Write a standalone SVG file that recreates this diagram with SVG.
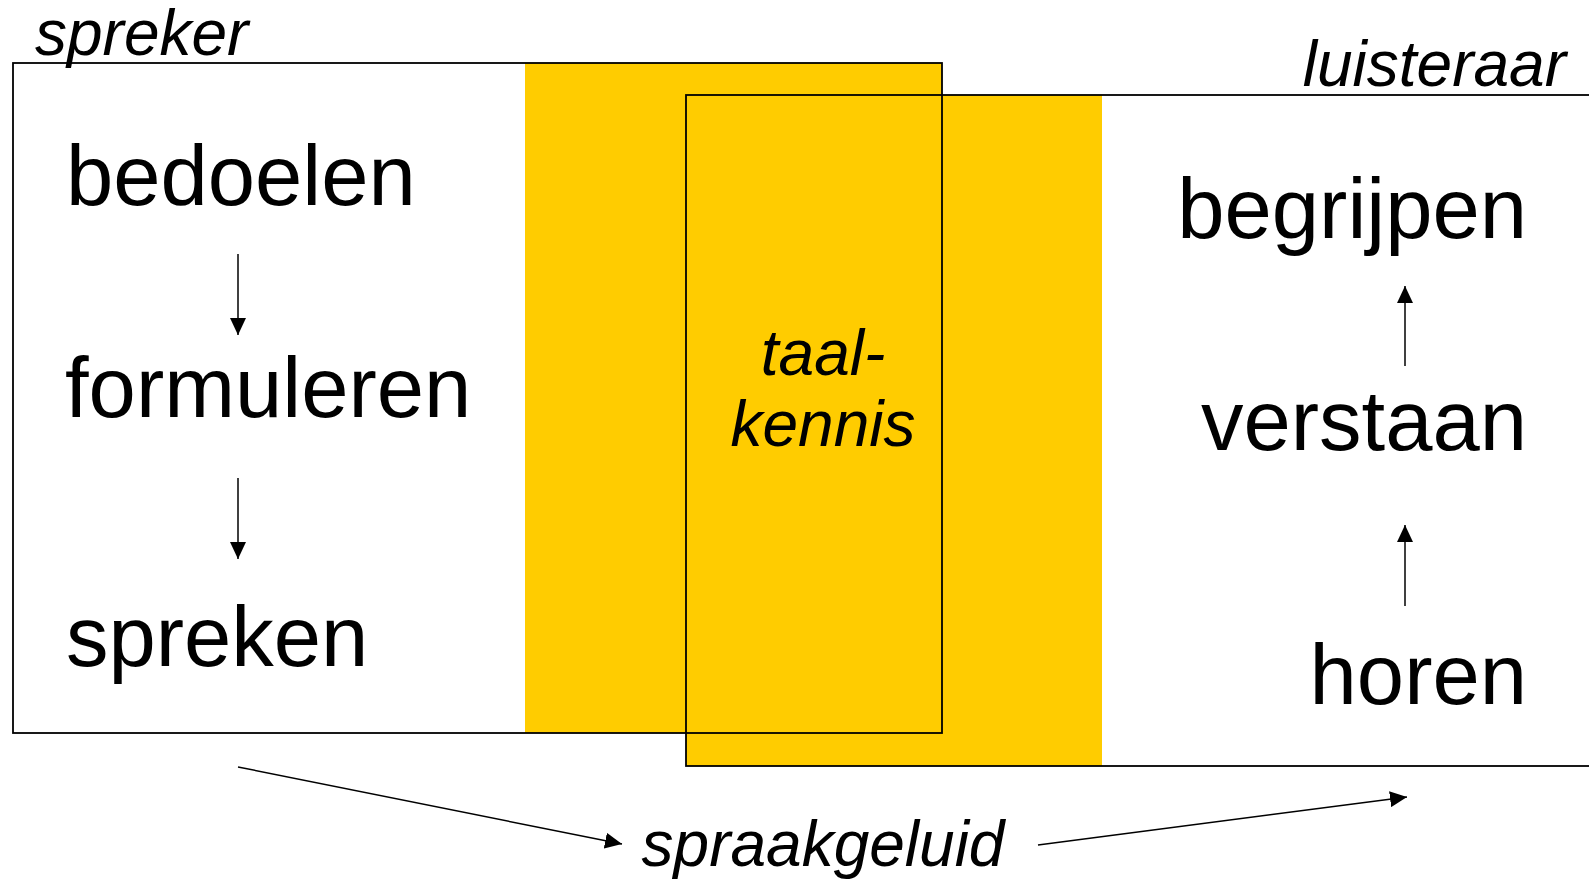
<svg xmlns="http://www.w3.org/2000/svg" width="1589" height="883" viewBox="0 0 1589 883">
<style>
.big{font-family:"Liberation Sans",Arial,sans-serif;font-size:85px;fill:#000}
.it{font-family:"Liberation Sans",Arial,sans-serif;font-size:64px;font-style:italic;fill:#000}
.box{fill:none;stroke:#000;stroke-width:1.8}
.ln{stroke:#000;stroke-width:1.5;fill:none}
</style>
<defs>
<marker id="ah" viewBox="0 0 17 16" refX="17" refY="8" markerWidth="17" markerHeight="16" markerUnits="userSpaceOnUse" orient="auto">
<path d="M0,0 L17,8 L0,16 z" fill="#000"/>
</marker>
</defs>
<rect width="1589" height="883" fill="#fff"/>
<g id="fills">
<rect x="525" y="63" width="417" height="670" fill="#FFCC00"/>
<rect x="686" y="95" width="416" height="671" fill="#FFCC00"/>
</g>
<g id="spreker">
<rect class="box" x="13" y="63" width="929" height="670"/>
<text class="it" x="35" y="55">spreker</text>
</g>
<g id="luisteraar">
<rect class="box" x="686" y="95" width="930" height="671"/>
<text class="it" x="1566" y="86" text-anchor="end">luisteraar</text>
</g>
<g id="bedoelen"><text class="big" x="66" y="205">bedoelen</text></g>
<g id="formuleren"><text class="big" x="65" y="417">formuleren</text></g>
<g id="spreken"><text class="big" x="66" y="666">spreken</text></g>
<g id="begrijpen"><text class="big" x="1527" y="238" text-anchor="end">begrijpen</text></g>
<g id="verstaan"><text class="big" x="1527" y="450" text-anchor="end">verstaan</text></g>
<g id="horen"><text class="big" x="1527" y="704" text-anchor="end">horen</text></g>
<g id="taalkennis">
<text class="it" x="823" y="375" text-anchor="middle">taal-</text>
<text class="it" x="823" y="446" text-anchor="middle">kennis</text>
</g>
<g id="spraakgeluid"><text class="it" x="823" y="866" text-anchor="middle">spraakgeluid</text></g>
<g id="connectors">
<line class="ln" x1="238" y1="254" x2="238" y2="335" marker-end="url(#ah)"/>
<line class="ln" x1="238" y1="478" x2="238" y2="559" marker-end="url(#ah)"/>
<line class="ln" x1="1405" y1="366" x2="1405" y2="286" marker-end="url(#ah)"/>
<line class="ln" x1="1405" y1="606" x2="1405" y2="525" marker-end="url(#ah)"/>
<line class="ln" x1="238" y1="767" x2="622" y2="844" marker-end="url(#ah)"/>
<line class="ln" x1="1038" y1="845" x2="1407" y2="797" marker-end="url(#ah)"/>
</g>
</svg>
